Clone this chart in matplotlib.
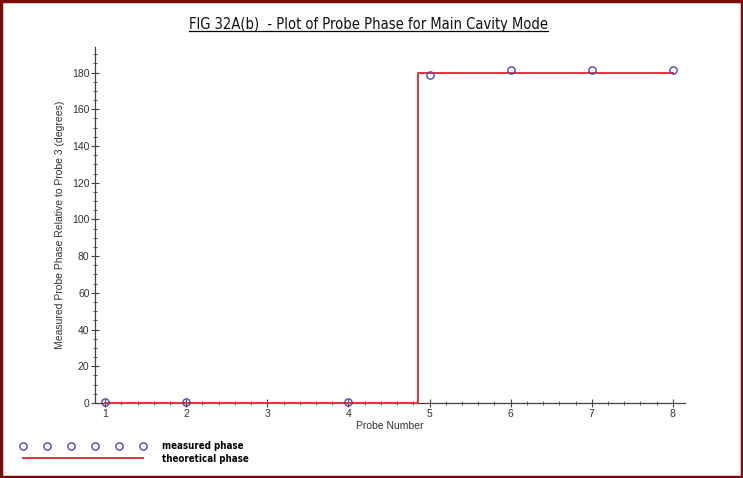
import matplotlib
matplotlib.use("Agg")
import matplotlib.pyplot as plt
from matplotlib.lines import Line2D
from matplotlib.patches import Rectangle
from matplotlib.ticker import MultipleLocator

plt.rcParams["font.family"] = ["Liberation Sans", "DejaVu Sans"]

# measured phase at each probe (probe 3 is the reference, so no point)
probes = [1, 2, 4, 5, 6, 7, 8]
measured = [0.5, 0.3, 0.4, 178.5, 181.3, 181.2, 181.3]

# theoretical phase: 0 deg up to the node, then 180 deg
theo_x = [1, 4.86, 8]
theo_y = [0, 180, 180]

xticks = [1, 2, 3, 4, 5, 6, 7, 8]
yticks = list(range(0, 181, 20))

fig = plt.figure(figsize=(7.43, 4.78), dpi=100)
ax = fig.add_axes([0.128, 0.157, 0.794, 0.745])

ax.plot(theo_x, theo_y, drawstyle="steps-post", color="#e8333a", lw=1.4,
        label="theoretical phase", zorder=3, clip_on=False)
ax.plot(probes, measured, linestyle="none", marker="o", ms=5.2, mfc="none",
        mec="#4a4aa8", mew=1.0, label="measured phase", zorder=4, clip_on=False)

ax.set_xlim(0.877, 8.15)
ax.set_ylim(0, 194)
for side in ("top", "right"):
    ax.spines[side].set_visible(False)
for side in ("left", "bottom"):
    ax.spines[side].set_color("#444444")
    ax.spines[side].set_linewidth(0.9)

ax.set_xticks(xticks)
ax.set_yticks(yticks)
ax.xaxis.set_minor_locator(MultipleLocator(0.2))
ax.yaxis.set_minor_locator(MultipleLocator(5))
ax.tick_params(which="major", direction="inout", length=6, width=0.8,
               colors="#444444", labelsize=7.5, labelcolor="#333333", pad=1)
ax.tick_params(which="minor", direction="inout", length=3, width=0.6,
               colors="#444444")

ax.set_xlabel("Probe Number", fontsize=7.5, color="#333333", labelpad=2)
ax.set_ylabel("Measured Probe Phase Relative to Probe 3 (degrees)",
              fontsize=7.5, color="#333333", labelpad=5)

title = fig.text(0.496, 0.948, "FIG 32A(b)  - Plot of Probe Phase for Main Cavity Mode",
                 ha="center", va="center", fontsize=10.5, fontstretch="condensed",
                 family=["DejaVu Sans"], color="#111111")

handles, labels = ax.get_legend_handles_labels()
fig.legend(handles[::-1], labels[::-1], loc="upper left",
           bbox_to_anchor=(0.015, 0.095), frameon=False, numpoints=6,
           handlelength=13, handletextpad=1.6, labelspacing=0.25,
           prop={"family": ["DejaVu Sans"], "stretch": "condensed",
                 "weight": "bold", "size": 7})

# underline the title
fig.canvas.draw()
bb = title.get_window_extent().transformed(fig.transFigure.inverted())
fig.add_artist(Line2D([bb.x0, bb.x1], [bb.y0 + 0.002, bb.y0 + 0.002],
                      transform=fig.transFigure, color="black", lw=0.9))

# dark red frame round the figure
fig.patches.append(Rectangle((0.002, 0.003), 0.996, 0.994, transform=fig.transFigure,
                             fill=False, edgecolor="#7d0a0a", lw=2.5))

fig.savefig("out.png", dpi=100)
